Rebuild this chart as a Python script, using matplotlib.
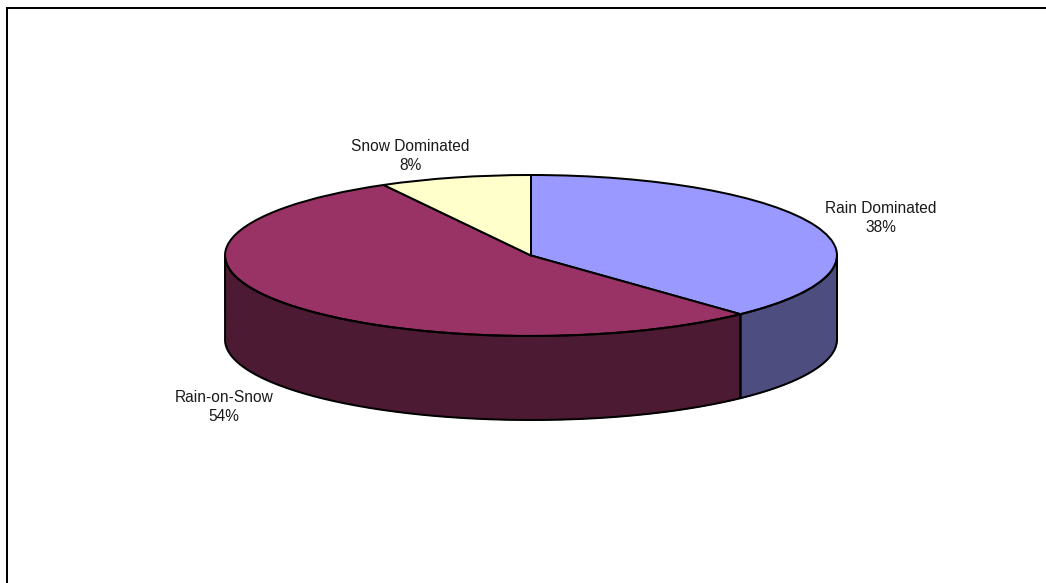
import numpy as np
import matplotlib
matplotlib.use("Agg")
import matplotlib.pyplot as plt
from matplotlib.lines import Line2D

categories = ["Rain Dominated", "Rain-on-Snow", "Snow Dominated"]
shares = [38, 54, 8]
top_colors = ["#9999FF", "#993366", "#FFFFCC"]
side_colors = ["#4D4D80", "#4D1A33", "#808066"]

W, H = 1046, 583
plt.rcParams["font.family"] = ["Liberation Sans", "DejaVu Sans"]
fig = plt.figure(figsize=(W / 100, H / 100), dpi=100, facecolor="white")

# frame (top and left edges visible)
fig.add_artist(Line2D([7 / W, 7 / W], [0, 1 - 8 / H], color="black", lw=1.44,
                      solid_capstyle="projecting"))
fig.add_artist(Line2D([7 / W, 1], [1 - 8 / H, 1 - 8 / H], color="black", lw=1.44,
                      solid_capstyle="projecting"))

# unit-circle axes: the top ellipse of the pie fills the axes
left, right, top, bottom = 225, 837, 175, 336
ax = fig.add_axes([left / W, 1 - bottom / H, (right - left) / W, (bottom - top) / H])
ax.axis("off")
depth = 84 / ((bottom - top) / 2)

# side wall, built from the slice angles (clockwise from 12 o'clock)
edges = np.cumsum([0] + shares) / 100 * 2 * np.pi
for a0, a1, col in zip(edges[:-1], edges[1:], side_colors):
    lo, hi = max(a0, np.pi / 2), min(a1, 3 * np.pi / 2)
    if hi <= lo:
        continue
    t = np.linspace(lo, hi, 200)
    x, y = np.sin(t), np.cos(t)
    ax.fill_between(x, y, y - depth, color=col, lw=0, clip_on=False)
    ax.plot(np.r_[x, x[::-1], x[0]], np.r_[y, (y - depth)[::-1], y[0]],
            color="black", lw=1.44, clip_on=False, solid_joinstyle="round")

wedges, _ = ax.pie(shares, colors=top_colors, startangle=90, counterclock=False,
                   radius=1, wedgeprops=dict(edgecolor="black", linewidth=1.44))
for w in wedges:
    w.set_clip_on(False)
ax.set_aspect("auto")
ax.set_xlim(-1, 1)
ax.set_ylim(-1, 1)
ax.axis("off")

# labels, placed in pixel space
label_pos = [(881, 218), (224, 407), (410, 156)]
for name, s, (lx, ly) in zip(categories, shares, label_pos):
    fig.text(lx / W, 1 - ly / H, f"{name}\n{s}%", ha="center", va="center",
             fontsize=11.2, color="#1a1a1a", linespacing=1.4)

fig.savefig("out.png", dpi=100, facecolor="white")
